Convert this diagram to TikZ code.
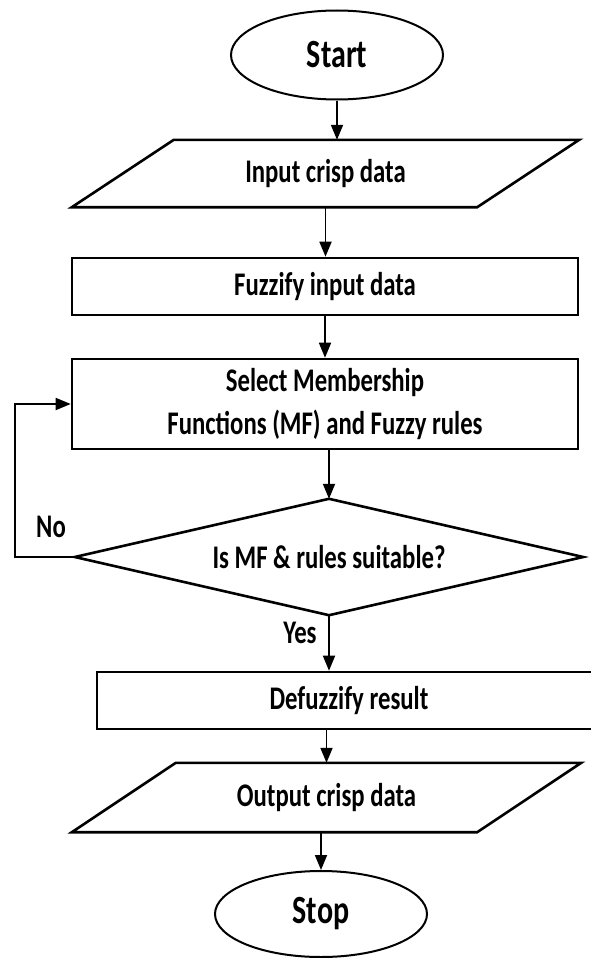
\documentclass[tikz,border=0pt]{standalone}
\usepackage{fontspec}
\usepackage{graphicx}
\setmainfont{Carlito}
\usetikzlibrary{shapes.geometric,arrows.meta}
\newcommand\sq[1]{\scalebox{0.75}[1]{#1}}
\tikzset{
  txt/.style={font=\fontsize{33}{43}\selectfont\bfseries, inner sep=0pt, align=center},
  box/.style={txt, draw, line width=2.6pt, rectangle},
  slot/.style={txt, rectangle},
  term/.style={txt, draw, ellipse, line width=2pt, font=\fontsize{40}{44}\selectfont\bfseries},
  edge/.style={line width=2.6pt, line join=miter},
  arr/.style={line width=1.8pt, -{Triangle[length=15pt,width=12pt]}},
  lab/.style={font=\fontsize{33}{36}\selectfont\bfseries, inner sep=0pt}
}
\begin{document}
\begin{tikzpicture}[x=1pt,y=-1pt]
\useasboundingbox (0,0) rectangle (591,958);
\fill[white] (0,0) rectangle (591,958);
% nodes
\node[term, minimum width=212pt, minimum height=89pt] (start) at (337,55) {\sq{Start}};
\node[slot, minimum width=507pt, minimum height=67pt] (in) at (325.5,173.5) {\sq{Input crisp data}};
\node[box, minimum width=506pt, minimum height=57pt] (fuz) at (325,286.5) {\sq{Fuzzify input data}};
\node[box, minimum width=506pt, minimum height=90pt] (sel) at (325,404) {\sq{Select Membership}\\\sq{Functions (MF) and Fuzzy rules}};
\node[slot, minimum width=508pt, minimum height=116pt] (dec) at (329,557) {\sq{Is MF \& rules suitable?}};
\node[box, minimum width=504pt, minimum height=57pt] (def) at (349,700.5) {\sq{Defuzzify result}};
\node[slot, minimum width=509pt, minimum height=69pt] (out) at (326.5,797.5) {\sq{Output crisp data}};
\node[term, minimum width=212pt, minimum height=86pt] (stop) at (321,914) {\sq{Stop}};
\node[lab] (no) at (51,527) {\sq{No}};
\node[lab] (yes) at (300,633) {\sq{Yes}};
% custom outlines
\draw[edge] (in.south west) -- ([xshift=-102pt]in.south east) -- (in.north east) -- ([xshift=102pt]in.north west) -- cycle;
\draw[edge] (dec.north) -- (dec.east) -- (dec.south) -- (dec.west) -- cycle;
\draw[edge] (out.south west) -- ([xshift=-104pt]out.south east) -- (out.north east) -- ([xshift=104pt]out.north west) -- cycle;
% connectors
\draw[arr] (start.south) -- (start.south |- in.north);
\draw[arr] (in.south) -- (in.south |- fuz.north);
\draw[arr] (fuz.south) -- (fuz.south |- sel.north);
\draw[arr] (sel.south -| dec.north) -- (dec.north);
\draw[arr] (dec.south) -- (dec.south |- def.north);
\draw[arr] (out.north |- def.south) -- (out.north);
\draw[arr] (out.south -| stop.north) -- (stop.north);
\draw[arr] (dec.west) -- ++(-60pt,0) |- (sel.west);
\end{tikzpicture}
\end{document}
